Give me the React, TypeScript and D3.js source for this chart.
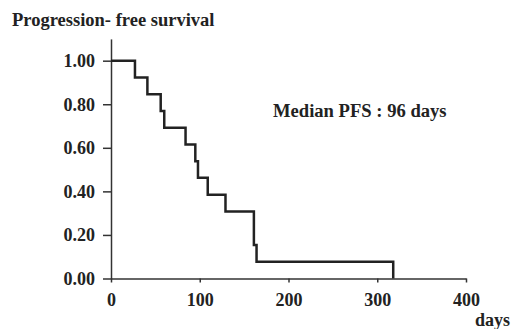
import React, { useEffect, useRef } from "react";
import * as d3 from "d3";

// event days and survival fraction after each event
const eventDays = [0, 27, 41, 56, 60, 84, 95, 98, 109, 129, 161, 164, 318];
const survival = [1.0, 0.923, 0.846, 0.769, 0.692, 0.615, 0.538, 0.462, 0.385, 0.308, 0.154, 0.077, 0.0];

const xTicks = [0, 100, 200, 300, 400];
const yTicks = [0, 0.2, 0.4, 0.6, 0.8, 1.0];

const title = "Progression- free survival";
const note = "Median PFS : 96 days";
const xLabel = "days";

export default function App() {
  const ref = useRef<SVGSVGElement>(null);

  useEffect(() => {
    const svg = d3.select(ref.current);
    svg.selectAll("*").remove();

    const font = "'Liberation Serif', 'Times New Roman', serif";
    const ink = "#222";

    const x = d3.scaleLinear().domain([0, 400]).range([111, 466]);
    const y = d3.scaleLinear().domain([0, 1.1]).range([278.5, 38.9]);

    // title
    svg
      .append("text")
      .attr("x", 12)
      .attr("y", 26)
      .attr("font-family", font)
      .attr("font-weight", "bold")
      .attr("font-size", 18.5)
      .attr("fill", ink)
      .text(title);

    // y axis
    const yAxis = svg
      .append("g")
      .attr("transform", `translate(${x(0)},0)`)
      .call(
        d3
          .axisLeft(y)
          .tickValues(yTicks)
          .tickFormat(d3.format(".2f"))
          .tickSize(8)
          .tickSizeOuter(0)
          .tickPadding(8)
      );
    yAxis.select(".domain").attr("stroke", "#333").attr("stroke-width", 1.5);
    yAxis.selectAll(".tick line").attr("stroke", "#333").attr("stroke-width", 1.5);
    yAxis
      .selectAll("text")
      .attr("font-family", font)
      .attr("font-weight", "bold")
      .attr("font-size", 18)
      .attr("fill", ink);

    // x axis
    const xAxis = svg
      .append("g")
      .attr("transform", `translate(0,${y(0)})`)
      .call(
        d3
          .axisBottom(x)
          .tickValues(xTicks)
          .tickFormat(d3.format("d"))
          .tickSize(4)
          .tickSizeOuter(0)
          .tickPadding(11)
      );
    xAxis.select(".domain").attr("stroke", "#333").attr("stroke-width", 1.5);
    xAxis.selectAll(".tick line").attr("stroke", "#333").attr("stroke-width", 1.5);
    xAxis
      .selectAll("text")
      .attr("font-family", font)
      .attr("font-weight", "bold")
      .attr("font-size", 18)
      .attr("fill", ink);

    svg
      .append("text")
      .attr("x", 510)
      .attr("y", 326)
      .attr("text-anchor", "end")
      .attr("font-family", font)
      .attr("font-weight", "bold")
      .attr("font-size", 18)
      .attr("fill", ink)
      .text(xLabel);

    // Kaplan-Meier step curve
    const pts: [number, number][] = eventDays.map((d, i) => [d, survival[i]]);
    const line = d3
      .line<[number, number]>()
      .x((d) => x(d[0]))
      .y((d) => y(d[1]))
      .curve(d3.curveStepAfter);

    svg
      .append("path")
      .attr("d", line(pts))
      .attr("fill", "none")
      .attr("stroke", ink)
      .attr("stroke-width", 2.5);

    svg
      .append("text")
      .attr("x", 273)
      .attr("y", 117)
      .attr("font-family", font)
      .attr("font-weight", "bold")
      .attr("font-size", 18.6)
      .attr("fill", ink)
      .text(note);
  }, []);

  return (
    <svg
      ref={ref}
      width={511}
      height={329}
      style={{ position: "absolute", left: 0, top: 0, background: "#fff" }}
    />
  );
}
